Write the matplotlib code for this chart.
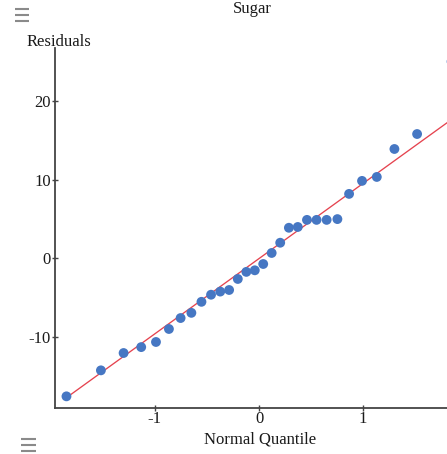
import numpy as np
import matplotlib
matplotlib.use("Agg")
import matplotlib.pyplot as plt
from matplotlib.lines import Line2D
from statistics import NormalDist

plt.rcParams["font.family"] = ["Liberation Serif", "DejaVu Serif"]
plt.rcParams["axes.unicode_minus"] = False

# Sorted residuals of the Sugar model
residuals = [-17.5, -14.2, -12.0, -11.25, -10.6, -8.95, -7.56, -6.9, -5.5, -4.6,
             -4.2, -4.0, -2.6, -1.7, -1.5, -0.7, 0.7, 2.0, 3.9, 4.0,
             4.9, 4.9, 4.9, 5.0, 8.2, 9.85, 10.35, 13.9, 15.8, 25.0]
x_ticks = [-1, 0, 1]
y_ticks = [-10, 0, 10, 20]
title = "Sugar"
x_label = "Normal Quantile"
y_label = "Residuals"

res = np.sort(np.array(residuals))
n = len(res)
nd = NormalDist()
quantiles = np.array([nd.inv_cdf(i / (n + 1)) for i in range(1, n + 1)])

# Reference normal line: mean + sd * quantile
mu = res.mean()
sd = res.std(ddof=1)

W, H = 447, 454
fig = plt.figure(figsize=(W / 100, H / 100), dpi=100)
ax = fig.add_axes([55 / W, 1 - 408 / H, (W - 55) / W, (408 - 48) / H])

qx = np.array([quantiles[0], quantiles[-1]])
ax.plot(qx, mu + sd * qx, color="#E5434F", lw=0.95, zorder=2)
ax.scatter(quantiles, res, s=50, color="#4677C3", edgecolors="none", zorder=3)

ax.set_xlim(-1.9587, 1.805)
ax.set_ylim(-18.98, 26.72)
ax.set_xticks(x_ticks)
ax.set_yticks(y_ticks)
ax.set_xticklabels([str(t) for t in x_ticks])
ax.set_yticklabels([str(t) for t in y_ticks])

for s in ("top", "right"):
    ax.spines[s].set_visible(False)
for s in ("left", "bottom"):
    ax.spines[s].set_color("#444444")
    ax.spines[s].set_linewidth(1.3)
ax.tick_params(axis="both", direction="inout", length=4, width=1.0,
               color="#444444", labelsize=12, labelcolor="#1a1a1a")
ax.tick_params(axis="y", pad=1)
ax.tick_params(axis="x", pad=0)

fig.text(252 / W, 1 - 13 / H, title, ha="center", va="baseline",
         fontsize=12, color="#1a1a1a")
fig.text(27 / W, 1 - 46 / H, y_label, ha="left", va="baseline",
         fontsize=12, color="#1a1a1a")
fig.text(260 / W, 1 - 443 / H, x_label, ha="center", va="baseline",
         fontsize=12, color="#1a1a1a")

# Menu glyphs (three stacked bars)
def menu_icon(x0, x1, ys):
    for y in ys:
        fig.add_artist(Line2D([x0 / W, x1 / W], [1 - y / H, 1 - y / H],
                              transform=fig.transFigure, color="#8a8a8a",
                              lw=1.5, solid_capstyle="butt"))

menu_icon(15, 29, [9, 15, 21])
menu_icon(21, 36, [439, 445, 451])

fig.savefig("out.png", dpi=100)
